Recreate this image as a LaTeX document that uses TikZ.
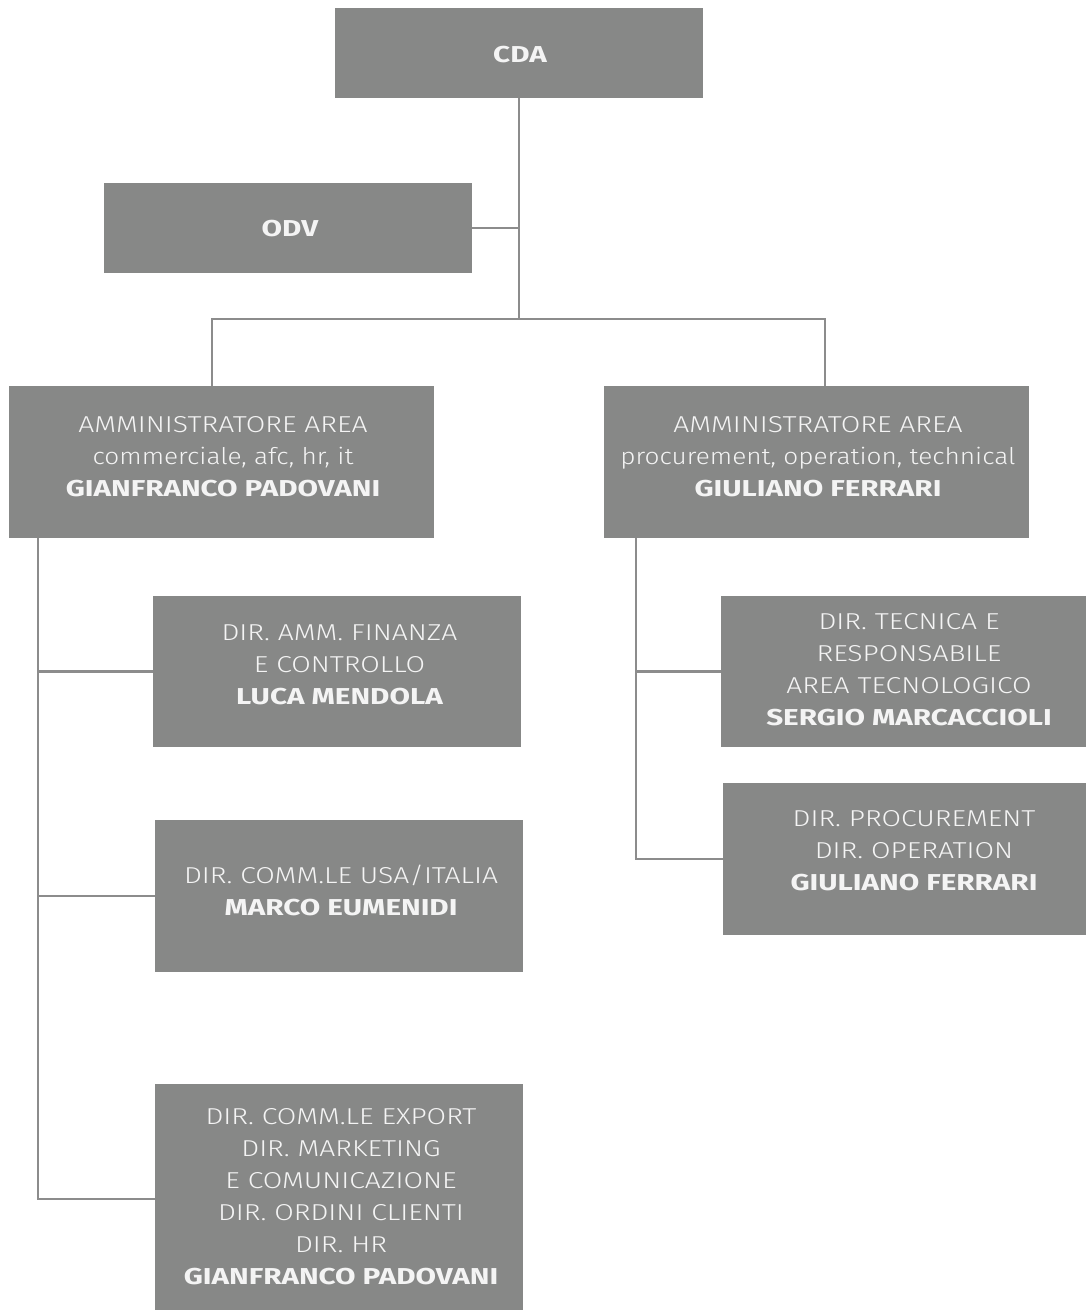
\documentclass[tikz,border=0pt]{standalone}
\usepackage{fontspec}
\setmainfont{Fira Sans Light}[BoldFont={Fira Sans Bold}, FakeStretch=1.23, BoldFeatures={FakeStretch=1.29}]
\newfontfamily\lcfont{Fira Sans Light}[FakeStretch=1.14]
\definecolor{boxfill}{HTML}{878887}
\definecolor{linecol}{HTML}{8C8C8C}
\definecolor{txtcol}{HTML}{F4F4F4}
\begin{document}
\begin{tikzpicture}[x=1pt,y=-1pt,
  orgbox/.style={fill=boxfill, draw=none, anchor=north west, inner sep=0pt, outer sep=0pt},
  orgtxt/.style={text=txtcol, align=center, inner sep=0pt, font=\fontsize{23}{32}\selectfont},
  conn/.style={draw=linecol, line width=2.2pt}]
\useasboundingbox (0,0) rectangle (1086,1310);
% boxes
\node[orgbox, minimum width=368pt, minimum height=90pt] (cda) at (335,8) {};
\node[orgbox, minimum width=368pt, minimum height=90pt] (odv) at (104,183) {};
\node[orgbox, minimum width=425pt, minimum height=152pt] (adl) at (9,386) {};
\node[orgbox, minimum width=425pt, minimum height=152pt] (adr) at (604,386) {};
\node[orgbox, minimum width=368pt, minimum height=151pt] (lm) at (153,596) {};
\node[orgbox, minimum width=368pt, minimum height=152pt] (me) at (155,820) {};
\node[orgbox, minimum width=368pt, minimum height=230pt] (bl) at (155,1084) {};
\node[orgbox, minimum width=369pt, minimum height=151pt] (sm) at (721,596) {};
\node[orgbox, minimum width=367pt, minimum height=152pt] (gf) at (723,783) {};
% texts
\node[orgtxt] (cda-t) at (520,55) {\bfseries CDA};
\node[orgtxt] (odv-t) at (290,229) {\bfseries ODV};
\node[orgtxt] (adl-t) at (223,457) {AMMINISTRATORE AREA\\{\lcfont commerciale, afc, hr, it}\\\bfseries GIANFRANCO PADOVANI};
\node[orgtxt] (adr-t) at (818,457) {AMMINISTRATORE AREA\\{\lcfont procurement, operation, technical}\\\bfseries GIULIANO FERRARI};
\node[orgtxt] (lm-t) at (339.5,665) {DIR. AMM. FINANZA\\E CONTROLLO\\\bfseries LUCA MENDOLA};
\node[orgtxt] (me-t) at (341,890) {DIR. COMM.LE USA/ITALIA\\\bfseries MARCO EUMENIDI};
\node[orgtxt] (bl-t) at (341,1196.5) {DIR. COMM.LE EXPORT\\DIR. MARKETING\\E COMUNICAZIONE\\DIR. ORDINI CLIENTI\\DIR. HR\\\bfseries GIANFRANCO PADOVANI};
\node[orgtxt] (sm-t) at (909,670) {DIR. TECNICA E\\RESPONSABILE\\AREA TECNOLOGICO\\\bfseries SERGIO MARCACCIOLI};
\node[orgtxt] (gf-t) at (914,851) {DIR. PROCUREMENT\\DIR. OPERATION\\\bfseries GIULIANO FERRARI};
% junction coordinates
\coordinate (j1) at (519,319);
\coordinate (hl) at (212,319);
\coordinate (hr) at (825,319);
\coordinate (sl) at (38,0);
\coordinate (sr) at (636,0);
% connectors
\draw[conn] (cda.south) -- (j1);
\draw[conn] (odv.east) -- (odv.east -| cda.south);
\draw[conn] (adl.north -| hl) -- (hl) -- (hr) -- (adr.north -| hr);
\draw[conn] (adl.south -| sl) |- (bl.west);
\draw[conn] (lm.west -| sl) -- (lm.west);
\draw[conn] (me.west -| sl) -- (me.west);
\draw[conn] (adr.south -| sr) |- (gf.west);
\draw[conn] (sm.west -| sr) -- (sm.west);
\end{tikzpicture}
\end{document}
